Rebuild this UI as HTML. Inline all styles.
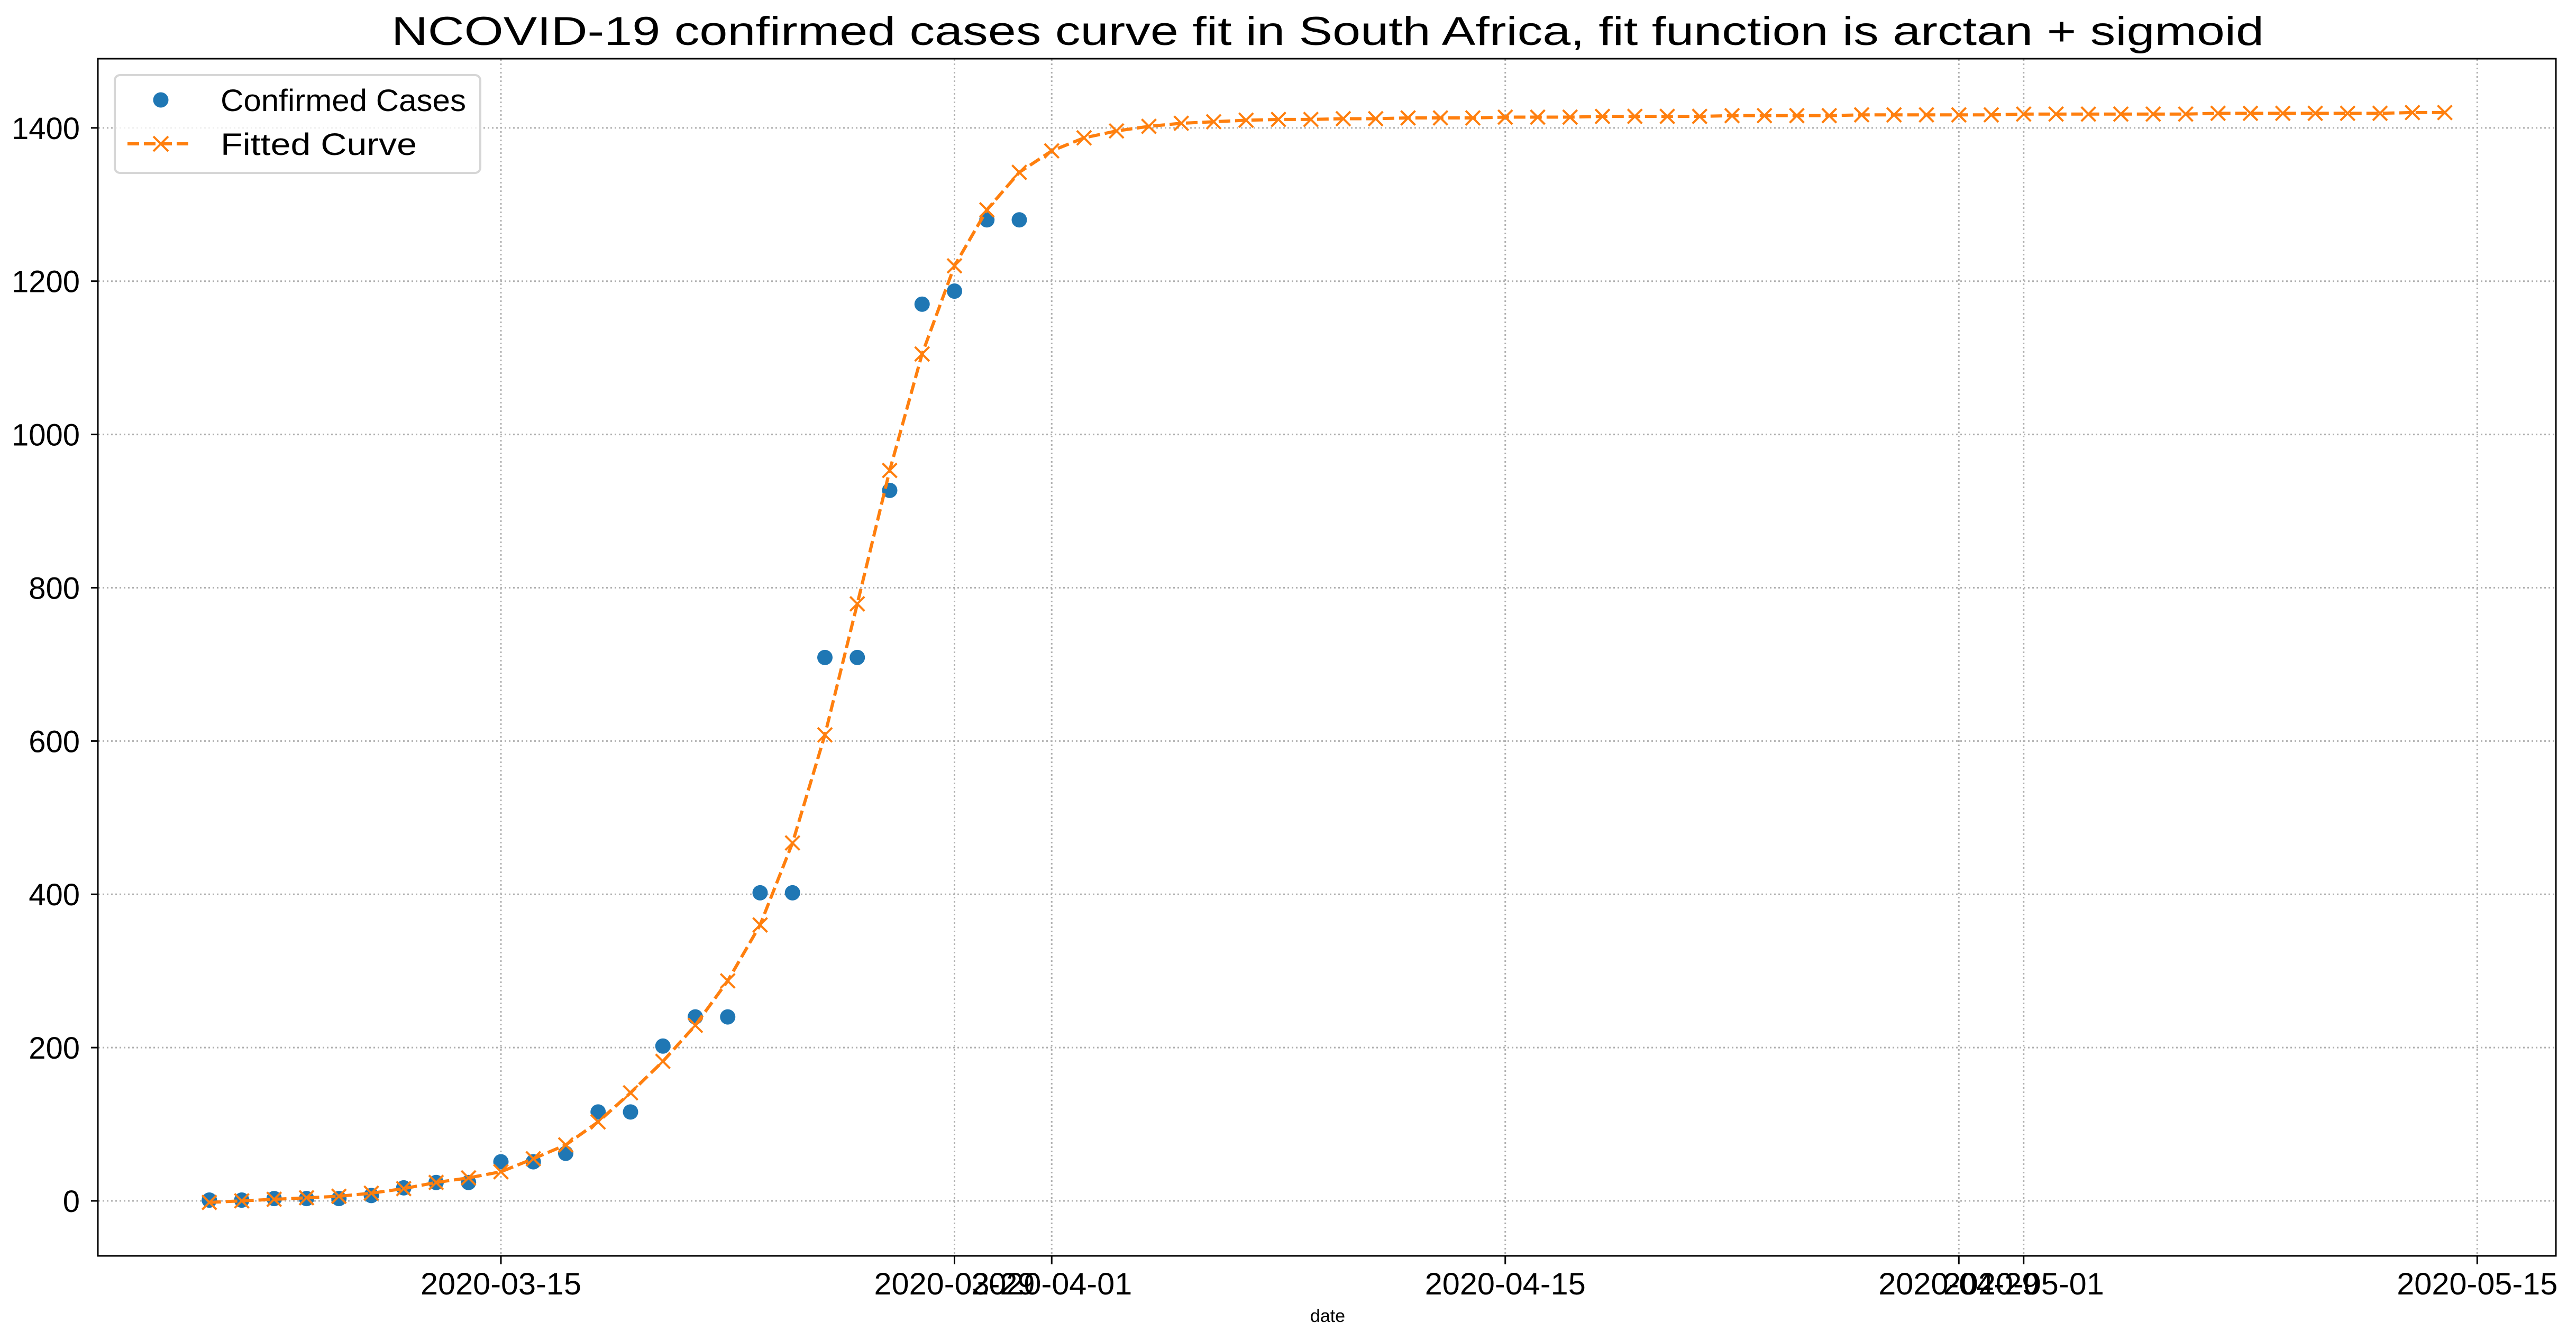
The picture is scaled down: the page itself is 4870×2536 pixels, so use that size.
<!DOCTYPE html>
<html><head><meta charset="utf-8"><style>
html,body{margin:0;padding:0;background:#fff;}
svg{display:block;}
text{font-family:"Liberation Sans","WenQuanYi Zen Hei",sans-serif;fill:#000;}
</style></head><body>
<svg id="chart" width="4870" height="2536" viewBox="0 0 4870 2536">
<text x="2510" y="85" font-size="76" text-anchor="middle" textLength="3540" lengthAdjust="spacingAndGlyphs">NCOVID-19 confirmed cases curve fit in South Africa, fit function is arctan + sigmoid</text>
<g id="grid"></g>
<g id="series"></g>
<rect x="185" y="111" width="4647" height="2264" fill="none" stroke="#000" stroke-width="3"/>
<g id="axes"></g>
<text x="2510" y="2500" font-size="34" text-anchor="middle">date</text>
<g>
<rect x="217" y="142" width="691" height="185" rx="10" fill="#fff" fill-opacity="0.8" stroke="#d6d6d6" stroke-width="4"/>
<g>
<ellipse cx="304" cy="189" rx="14.5" ry="14.5" fill="#1f77b4"/>
<text x="417" y="210" font-size="58" textLength="464" lengthAdjust="spacingAndGlyphs">Confirmed Cases</text>
</g>
<g>
<line x1="241" y1="272" x2="363" y2="272" stroke="#ff7f0e" stroke-width="6" stroke-dasharray="22,9"/>
<path d="M290 258L318 286M318 258L290 286" stroke="#ff7f0e" stroke-width="4"/>
<text x="417" y="293" font-size="58" textLength="371" lengthAdjust="spacingAndGlyphs">Fitted Curve</text>
</g>
</g>
</svg>
<script>
// data (day offsets from 2020-03-15)
const confirmedDays = [-9,-8,-7,-6,-5,-4,-3,-2,-1,0,1,2,3,4,5,6,7,8,9,10,11,12,13,14,15,16];
const confirmedValues = [1,1,3,3,3,7,17,24,24,51,51,62,116,116,202,240,240,402,402,709,709,927,1170,1187,1280,1280];
const fittedValues = [-2,0,2,4,6,10,16,24,30,38,55,73,103,141,182,229,287,360,467,608,779,953,1105,1220,1293,1342,1370,1387,1396,1402,1406,1408,1410,
1411,1411,1412,1412,1413,1413,1413,1414,1414,1414,1415,1415,1415,1415,1416,1416,1416,1416,1417,1417,1417,1417,1417,1418,1418,1418,1418,1418,1418,1419,1419,1419,1419,1419,1419,1420,1420];
const fittedStartDay = -9;
const yTicks = [0,200,400,600,800,1000,1200,1400];
const xTickDays = [0,14,17,31,45,47,61];
const xTickLabels = ["2020-03-15","2020-03-29","2020-04-01","2020-04-15","2020-04-29","2020-05-01","2020-05-15"];

const NS = "http://www.w3.org/2000/svg";
const X0 = 947, PXDAY = 61.25, Y0 = 2271, PXUNIT = 1.4494;
const xs = d => X0 + d * PXDAY;
const ys = v => Y0 - v * PXUNIT;
function mk(tag, attrs, parent){const e=document.createElementNS(NS,tag);for(const k in attrs)e.setAttribute(k,attrs[k]);parent.appendChild(e);return e;}

const grid = document.getElementById('grid');
const axes = document.getElementById('axes');
const series = document.getElementById('series');

yTicks.forEach(v=>{
  const y = ys(v);
  const g = mk('line',{x1:186,x2:4831,y1:y,y2:y,stroke:'#b0b0b0','stroke-width':3,'stroke-dasharray':'3,5'},grid);
  
  
  const t = mk('line',{x1:172,x2:185,y1:y,y2:y,stroke:'#000','stroke-width':3},axes);
  
  
  const lab = mk('text',{x:151,y:y+21,'font-size':58,'text-anchor':'end'},axes);
  lab.textContent = String(v);
  
  
});
xTickDays.forEach((d,i)=>{
  const x = xs(d);
  const g = mk('line',{x1:x,x2:x,y1:112,y2:2374,stroke:'#b0b0b0','stroke-width':3,'stroke-dasharray':'3,5'},grid);
  
  
  const t = mk('line',{x1:x,x2:x,y1:2376,y2:2391,stroke:'#000','stroke-width':3},axes);
  
  
  const lab = mk('text',{x:x,y:2448,'font-size':58,'text-anchor':'middle',textLength:304,lengthAdjust:'spacingAndGlyphs'},axes);
  lab.textContent = xTickLabels[i];
  
  
});

confirmedDays.forEach((d,i)=>{
  const c = mk('circle',{cx:xs(d),cy:ys(confirmedValues[i]),r:14.5,fill:'#1f77b4'},series);
  
  
});
const pts = fittedValues.map((v,i)=>xs(fittedStartDay+i)+','+ys(v)).join(' ');
const pl = mk('polyline',{points:pts,fill:'none',stroke:'#ff7f0e','stroke-width':6,'stroke-dasharray':'22,9'},series);


fittedValues.forEach((v,i)=>{
  const x = xs(fittedStartDay+i), y = ys(v), h = 13.5;
  const p = mk('path',{d:`M${x-h} ${y-h}L${x+h} ${y+h}M${x+h} ${y-h}L${x-h} ${y+h}`,stroke:'#ff7f0e','stroke-width':4,fill:'none'},series);
  
  
});
</script>
</body></html>
